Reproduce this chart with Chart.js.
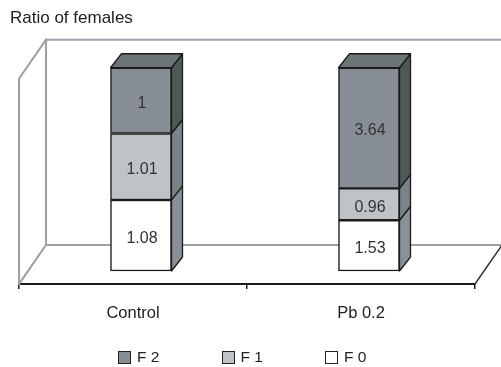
<!DOCTYPE html>
<html>
<head>
<meta charset="utf-8">
<script src="https://cdn.jsdelivr.net/npm/chart.js@4/dist/chart.umd.min.js"></script>
<style>
  html, body { margin: 0; padding: 0; background: #fff; }
  #wrap { position: relative; width: 501px; height: 367px; overflow: hidden; }
  #c { position: absolute; left: 0; top: 0; }
  #legend { position: absolute; left: 118px; top: 348px; display: flex;
            font: 15.5px "Liberation Sans", Arial, sans-serif; color: #222; }
  #legend .item { display: flex; align-items: center; width: 103.5px; }
  #legend .box { width: 11px; height: 11px; border: 1.5px solid #222; margin-right: 6px; }
</style>
</head>
<body>
<div id="wrap">
  <canvas id="c" width="501" height="367"></canvas>
  <div id="legend"></div>
</div>
<script>
// Generations of females per treatment (ratio values, stacked to 100 %)
const categories = ['Control', 'Pb 0.2'];
const seriesNames = ['F 0', 'F 1', 'F 2'];
const f0 = [1.08, 1.53];
const f1 = [1.01, 0.96];
const f2 = [1, 3.64];

const series = [f0, f1, f2];
const totals = categories.map((_, i) => series.reduce((s, arr) => s + arr[i], 0));
const share = (arr) => arr.map((v, i) => v / totals[i] * 100);

// Face colours: front, side, top
const FRONT = ['#ffffff', '#bec3c8', '#878e95'];
const SIDE  = ['#8a9196', '#7a8488', '#4e5858'];
const TOP   = '#6b7575';
const EDGE  = '#1b1b1b';
const WALL  = '#9aa0a5';

// Oblique offsets for the fake 3-D look
const BAR_SHIFT = { x: 8, y: -13 };   // bar front face behind the floor edge
const BAR_DEPTH = { x: 11, y: -14 };  // bar thickness
const WALL_DEPTH = { x: 27, y: -39 }; // floor depth to the back wall

const FONT = '"Liberation Sans", Arial, sans-serif';
Chart.defaults.font.family = FONT;

const box3d = {
  id: 'box3d',
  beforeDatasetsDraw(chart) {
    const { ctx, chartArea: a } = chart;
    const L = a.left, R = a.right, T = a.top, B = a.bottom;
    const wx = WALL_DEPTH.x, wy = WALL_DEPTH.y;
    ctx.save();
    ctx.lineWidth = 2;
    ctx.strokeStyle = WALL;
    ctx.lineCap = 'square';
    // back wall
    ctx.beginPath();
    ctx.moveTo(L + wx, B + wy); ctx.lineTo(L + wx, T + wy);
    ctx.lineTo(R + wx, T + wy); ctx.lineTo(R + wx, B + wy);
    ctx.lineTo(L + wx, B + wy);
    ctx.stroke();
    // side wall
    ctx.beginPath();
    ctx.moveTo(L + wx, T + wy); ctx.lineTo(L, T); ctx.lineTo(L, B);
    ctx.moveTo(L + wx, B + wy); ctx.lineTo(L, B);
    ctx.stroke();
    // right edge of the floor
    ctx.strokeStyle = '#2a2a2a';
    ctx.lineWidth = 1.5;
    ctx.beginPath();
    ctx.moveTo(R + wx, B + wy); ctx.lineTo(R, B);
    ctx.stroke();
    ctx.restore();

    ctx.save();
    ctx.translate(BAR_SHIFT.x, BAR_SHIFT.y);
  },
  afterDatasetsDraw(chart) {
    const { ctx } = chart;
    const n = chart.data.datasets.length;
    const dx = BAR_DEPTH.x, dy = BAR_DEPTH.y;
    ctx.lineWidth = 1.3;
    ctx.strokeStyle = EDGE;
    ctx.lineJoin = 'round';
    for (let d = 0; d < n; d++) {
      chart.getDatasetMeta(d).data.forEach((bar) => {
        const { x, y, base, width } = bar.getProps(['x', 'y', 'base', 'width'], true);
        const l = x - width / 2, r = x + width / 2;
        ctx.beginPath();
        ctx.moveTo(r, y); ctx.lineTo(r + dx, y + dy);
        ctx.lineTo(r + dx, base + dy); ctx.lineTo(r, base);
        ctx.closePath();
        ctx.fillStyle = SIDE[d];
        ctx.fill(); ctx.stroke();
        if (d === n - 1) {
          ctx.beginPath();
          ctx.moveTo(l, y); ctx.lineTo(l + dx, y + dy);
          ctx.lineTo(r + dx, y + dy); ctx.lineTo(r, y);
          ctx.closePath();
          ctx.fillStyle = TOP;
          ctx.fill(); ctx.stroke();
        }
      });
    }
    // value labels on the front faces
    ctx.fillStyle = '#333';
    ctx.font = '16px ' + FONT;
    ctx.textAlign = 'center';
    ctx.textBaseline = 'middle';
    for (let d = 0; d < n; d++) {
      chart.getDatasetMeta(d).data.forEach((bar, i) => {
        const { x, y, base } = bar.getProps(['x', 'y', 'base'], true);
        ctx.fillText(String(series[d][i]), x + 1, (y + base) / 2 + 3);
      });
    }
    ctx.restore();
  }
};

const htmlLegend = {
  id: 'htmlLegend',
  afterUpdate(chart) {
    const host = document.getElementById('legend');
    host.innerHTML = '';
    const items = chart.options.plugins.legend.labels.generateLabels(chart).slice().reverse();
    items.forEach((it) => {
      const el = document.createElement('div');
      el.className = 'item';
      const box = document.createElement('span');
      box.className = 'box';
      box.style.background = it.fillStyle;
      const txt = document.createElement('span');
      txt.textContent = it.text;
      el.appendChild(box); el.appendChild(txt);
      host.appendChild(el);
    });
  }
};

new Chart(document.getElementById('c'), {
  type: 'bar',
  data: {
    labels: categories,
    datasets: series.map((arr, d) => ({
      label: seriesNames[d],
      data: share(arr),
      backgroundColor: FRONT[d],
      borderColor: EDGE,
      borderWidth: 1.5,
      borderSkipped: false,
      barThickness: 61,
      clip: false
    }))
  },
  options: {
    responsive: false,
    devicePixelRatio: 1,
    animation: false,
    layout: { padding: { left: 10, right: 26, top: 0, bottom: 0 } },
    plugins: {
      legend: { display: false },
      tooltip: { enabled: false },
      title: {
        display: true,
        text: 'Ratio of females',
        align: 'start',
        color: '#222',
        font: { size: 17, weight: 'normal', family: FONT },
        padding: { top: 8, bottom: 50.3 }
      }
    },
    scales: {
      x: {
        stacked: true,
        grid: { drawOnChartArea: false, drawTicks: true, tickLength: 5, color: '#1b1b1b', lineWidth: 1.5, offset: true },
        border: { display: true, color: '#1b1b1b', width: 2 },
        ticks: { color: '#222', font: { size: 16.5, family: FONT }, padding: 15 },
        afterFit: (s) => { s.height = 83; }
      },
      y: {
        stacked: true,
        min: 0,
        max: 101,
        ticks: { display: false },
        grid: { display: false },
        border: { display: false },
        afterFit: (s) => { s.width = 9; }
      }
    }
  },
  plugins: [box3d, htmlLegend]
});
</script>
</body>
</html>
